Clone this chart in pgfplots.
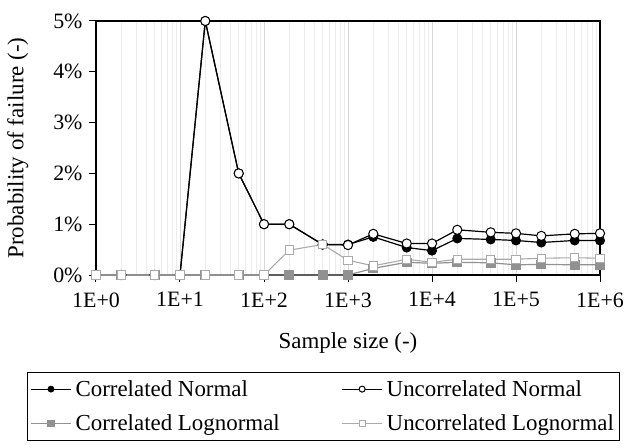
\documentclass[border=0pt]{standalone}
\usepackage{fontspec}
\setmainfont{Liberation Serif}
\usepackage{pgfplots}
\pgfplotsset{compat=1.18}
\definecolor{gridmin}{RGB}{236,236,236}
\definecolor{gridmaj}{RGB}{215,215,215}
\definecolor{clgray}{RGB}{145,145,145}
\definecolor{ulgray}{RGB}{170,170,170}
\begin{document}
\begin{tikzpicture}
\begin{axis}[
  name=ax,
  scale only axis,
  width=504bp, height=254bp,
  xmode=log,
  xmin=1, xmax=1e6,
  ymin=0, ymax=5,
  xtick={1,10,100,1000,10000,100000,1000000},
  xticklabels={1E+0,1E+1,1E+2,1E+3,1E+4,1E+5,1E+6},
  ytick={0,1,2,3,4,5},
  yticklabels={0\%,1\%,2\%,3\%,4\%,5\%},
  xmajorgrids=true, xminorgrids=true,
  ymajorgrids=false,
  major grid style={gridmaj, line width=0.6bp},
  minor grid style={gridmin, line width=0.6bp},
  minor tick length=0pt,
  major tick length=7bp,
  tick align=outside,
  xtick pos=bottom, ytick pos=left,
  tick style={black, line width=1bp},
  axis line style={black, line width=1.2bp},
  clip=false,
  every tick label/.append style={font=\rmfamily\fontsize{22}{26}\selectfont},
  xticklabel style={yshift=-7bp},
  yticklabel style={xshift=-3bp},
  xlabel={Sample size (-)},
  ylabel={Probability of failure (-)},
  every axis x label/.style={at={(rel axis cs:0.5,-0.268)}, anchor=center, font=\rmfamily\fontsize{23}{27}\selectfont},
  every axis y label/.style={at={(rel axis cs:-0.155,0.5)}, rotate=90, anchor=center, font=\rmfamily\fontsize{23}{27}\selectfont},
  legend columns=2,
  legend cell align=left,
  legend style={at={(rel axis cs:-0.137,-0.382)}, anchor=north west,
    draw=black, line width=0.8bp, font=\rmfamily\fontsize{23}{27}\selectfont,
    inner xsep=3bp, inner ysep=6bp, row sep=13bp},
  legend image code/.code={\draw[mark repeat=2,mark phase=2,#1] plot coordinates {(0bp,0bp) (20bp,0bp) (40bp,0bp)};},
  legend image post style={mark size=3bp},
]
% Correlated Normal
\addplot[black, line width=1.2bp, mark=*, mark size=4.6bp, mark options={fill=black, draw=black, line width=0.8bp}]
coordinates {(1,0) (2,0) (5,0) (10,0) (20,5) (50,2) (100,1) (200,1) (500,0.6) (1000,0.6) (2000,0.75) (5000,0.54) (10000,0.48) (20000,0.72) (50000,0.70) (100000,0.68) (200000,0.64) (500000,0.68) (1000000,0.68)};
\addlegendentry{\makebox[266bp][l]{\hspace{2bp}Correlated Normal}}
% Uncorrelated Normal
\addplot[black, line width=1.2bp, mark=*, mark size=4.6bp, mark options={fill=white, draw=black, line width=1bp}]
coordinates {(1,0) (2,0) (5,0) (10,0) (20,5) (50,2) (100,1) (200,1) (500,0.6) (1000,0.59) (2000,0.81) (5000,0.62) (10000,0.62) (20000,0.89) (50000,0.84) (100000,0.82) (200000,0.77) (500000,0.81) (1000000,0.82)};
\addlegendentry{\makebox[230bp][l]{\hspace{2bp}Uncorrelated Normal}}
% Correlated Lognormal
\addplot[clgray, line width=1.2bp, mark=square*, mark size=4.2bp, mark options={fill=clgray, draw=clgray}]
coordinates {(1,0) (2,0) (5,0) (10,0) (20,0) (50,0) (100,0) (200,0) (500,0) (1000,0) (2000,0.13) (5000,0.25) (10000,0.23) (20000,0.25) (50000,0.24) (100000,0.20) (200000,0.21) (500000,0.20) (1000000,0.20)};
\addlegendentry{\makebox[266bp][l]{\hspace{2bp}Correlated Lognormal}}
% Uncorrelated Lognormal
\addplot[ulgray, line width=1.1bp, mark=square*, mark size=4.2bp, mark options={fill=white, draw=ulgray, line width=1bp}]
coordinates {(1,0) (2,0) (5,0) (10,0) (20,0) (50,0) (100,0) (200,0.49) (500,0.6) (1000,0.29) (2000,0.18) (5000,0.31) (10000,0.25) (20000,0.31) (50000,0.31) (100000,0.31) (200000,0.33) (500000,0.34) (1000000,0.33)};
\addlegendentry{\makebox[230bp][l]{\hspace{2bp}Uncorrelated Lognormal}}
\end{axis}
\pgfresetboundingbox
\path ([xshift=-96bp,yshift=-173bp]ax.south west) rectangle ([xshift=29bp,yshift=21bp]ax.north east);
\end{tikzpicture}
\end{document}
